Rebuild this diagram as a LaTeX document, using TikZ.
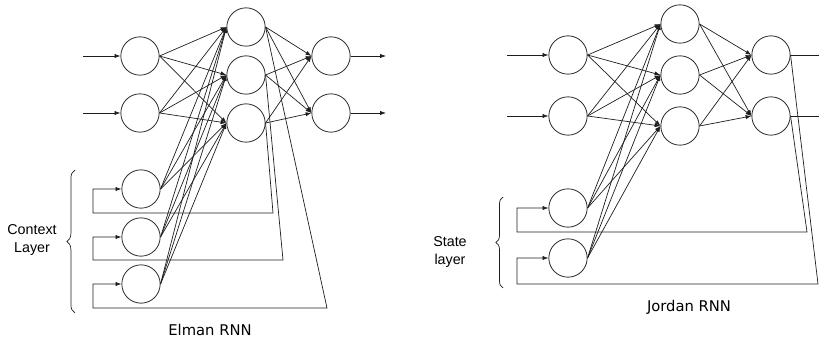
\documentclass[tikz,border=0pt]{standalone}
\usepackage{fontspec}
\usetikzlibrary{arrows.meta,positioning,decorations.pathreplacing}
\newfontfamily\arialfont{Liberation Sans}
\newfontfamily\verdfont{DejaVu Sans}
\definecolor{NetLine}{HTML}{1E1E1E}
\tikzset{>={Latex[length=5pt,width=3.6pt]},
 neuron/.style={circle,draw=NetLine,line width=.65pt,minimum size=1.15cm,inner sep=0pt},
 wire/.style={draw=NetLine,line width=.6pt},
 caption/.style={font=\verdfont\fontsize{12.6}{15}\selectfont},
 layername/.style={font=\arialfont\fontsize{12.2}{15.5}\selectfont,align=center},
 layerbrace/.style={draw=NetLine,line width=.6pt,decorate,decoration={brace,amplitude=7pt}}}
\begin{document}
\begin{tikzpicture}[x=0.03cm,y=-0.03cm]
\useasboundingbox (0,0) rectangle (819,341);
% Elman RNN
\node[neuron] (ei1) at (140,56) {};\node[neuron] (ei2) at (140,113) {};
\node[neuron] (eh1) at (246,27) {};\node[neuron] (eh2) at (246,75) {};
\node[neuron] (eh3) at (246,123) {};
\node[neuron] (eo1) at (331,56) {};\node[neuron] (eo2) at (331,113) {};
\node[neuron] (ec1) at (141,189) {};\node[neuron] (ec2) at (141,237) {};
\node[neuron] (ec3) at (141,284) {};
\coordinate (ein1) at (83,56);\coordinate (ein2) at (83,113);
\coordinate (eout1) at (386,56);\coordinate (eout2) at (386,113);
\coordinate (ek1) at (273,213);\coordinate (el1) at (93,213);
\coordinate (ek2) at (283,260);\coordinate (el2) at (93,260);
\coordinate (ek3) at (327,308);\coordinate (el3) at (93,308);
\foreach \i in {1,2}{
 \draw[wire,->] (ein\i) -- (ei\i);
 \draw[wire,->] (eo\i) -- (eout\i);
 \foreach \h in {1,2,3} \draw[wire,->] (ei\i.east) -- (eh\h.west);}
\foreach \c in {1,2,3} \foreach \h in {1,2,3} \draw[wire,->] (ec\c.east) -- (eh\h.west);
\foreach \h in {1,2,3} \foreach \o in {1,2} \draw[wire,->] (eh\h.east) -- (eo\o.west);
\draw[wire,->] (eh3.east) -- (ek1) -- (el1) |- (ec1.west);
\draw[wire,->] (eh2.east) -- (ek2) -- (el2) |- (ec2.west);
\draw[wire,->] (eh1.east) -- (ek3) -- (el3) |- (ec3.west);
\draw[layerbrace] (75,313) -- (75,170);
\node[layername] (ctx) at (32,240) {Context\\Layer};
\node[caption] (elman) at (210,330) {Elman RNN};
% Jordan RNN
\node[neuron] (ji1) at (568,55) {};\node[neuron] (ji2) at (568,116) {};
\node[neuron] (jh1) at (680,24) {};\node[neuron] (jh2) at (680,75) {};
\node[neuron] (jh3) at (680,126) {};
\node[neuron] (jo1) at (771,55) {};\node[neuron] (jo2) at (771,116) {};
\node[neuron] (js1) at (568,208) {};\node[neuron] (js2) at (568,258) {};
\coordinate (jin1) at (507,55);\coordinate (jin2) at (507,116);
\coordinate (jout1) at (819,55);\coordinate (jout2) at (819,116);
\coordinate (jk1) at (807,232);\coordinate (jl1) at (517,232);
\coordinate (jk2) at (818,284);\coordinate (jl2) at (517,284);
\foreach \i in {1,2}{
 \draw[wire,->] (jin\i) -- (ji\i);
 \draw[wire] (jo\i) -- (jout\i);
 \foreach \h in {1,2,3}{
  \draw[wire,->] (ji\i.east) -- (jh\h.west);
  \draw[wire,->] (js\i.east) -- (jh\h.west);
  \draw[wire,->] (jh\h.east) -- (jo\i.west);}}
\draw[wire,->] (jo2.east) -- (jk1) -- (jl1) |- (js1.west);
\draw[wire,->] (jo1.east) -- (jk2) -- (jl2) |- (js2.west);
\draw[layerbrace,decoration={amplitude=6pt}] (503,288) -- (503,197);
\node[layername] (state) at (450,252) {State\\layer};
\node[caption] (jordan) at (689,307) {Jordan RNN};
\end{tikzpicture}
\end{document}
